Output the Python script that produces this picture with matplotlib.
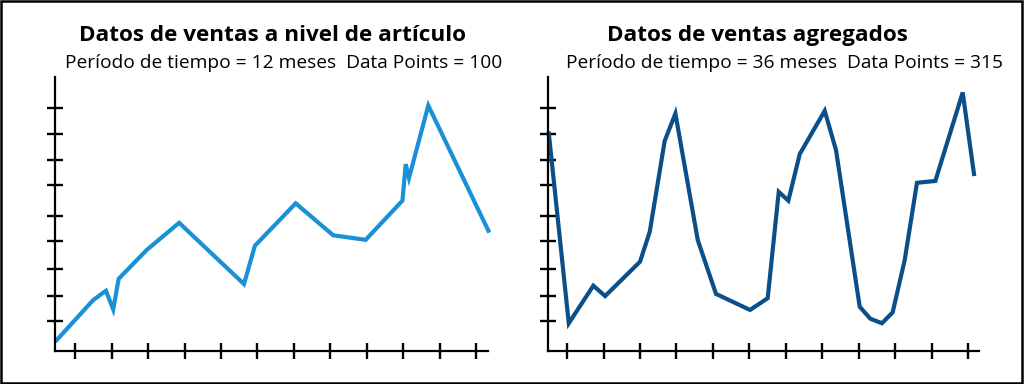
import matplotlib
matplotlib.use("Agg")
import matplotlib.pyplot as plt
from matplotlib.patches import Rectangle

plt.rcParams['font.family'] = ['Open Sans', 'DejaVu Sans']

# ---- data ----
left_title = "Datos de ventas a nivel de artículo"
left_subtitle = "Período de tiempo = 12 meses  Data Points = 100"
right_title = "Datos de ventas agregados"
right_subtitle = "Período de tiempo = 36 meses  Data Points = 315"

left_x = [0.49, 1.49, 1.84, 2.04, 2.19, 2.96, 3.85, 5.63, 5.93, 7.05, 8.08,
          8.97, 9.98, 10.07, 10.16, 10.69, 12.34]
left_y = [0.40, 1.90, 2.25, 1.55, 2.70, 3.78, 4.80, 2.50, 3.94, 5.53, 4.33,
          4.16, 5.63, 7.00, 6.48, 9.20, 4.50]

right_x = [1.50, 3.14, 5.16, 6.13, 9.00, 9.80, 11.03, 11.91, 13.75, 15.25,
           18.05, 19.50, 20.41, 21.20, 22.14, 24.19, 25.12, 27.07, 27.94,
           28.90, 29.78, 30.77, 31.78, 33.29, 35.54, 36.47]
right_y = [8.15, 1.03, 2.44, 2.05, 3.34, 4.46, 7.87, 8.90, 4.15, 2.13, 1.53,
           1.97, 5.96, 5.63, 7.38, 9.00, 7.53, 1.65, 1.20, 1.03, 1.44, 3.40,
           6.30, 6.37, 9.69, 6.63]

left_xticks = list(range(1, 13))
right_xticks = list(range(3, 37, 3))
yticks = [1.10, 2.05, 3.08, 4.10, 5.06, 6.21, 7.17, 8.13, 9.10]

left_color = "#1a90d8"
right_color = "#0b4f8a"

fig = plt.figure(figsize=(10.24, 3.84), dpi=100)

def style(ax):
    for s in ("top", "right"):
        ax.spines[s].set_visible(False)
    for s in ("left", "bottom"):
        ax.spines[s].set_linewidth(1.6)
        ax.spines[s].set_color("black")
    ax.tick_params(direction="inout", length=11, width=1.7, color="black",
                   labelleft=False, labelbottom=False)
    ax.set_yticks(yticks)
    ax.set_ylim(0, 10.27)

axL = fig.add_axes([0.054, 0.0867, 0.4226, 0.7128])
axL.plot(left_x, left_y, color=left_color, lw=3.0, solid_joinstyle="miter", clip_on=False)
axL.set_xlim(0.45, 12.33)
axL.set_xticks(left_xticks)
style(axL)

axR = fig.add_axes([0.5349, 0.0867, 0.4209, 0.7128])
axR.plot(right_x, right_y, color=right_color, lw=3.0, solid_joinstyle="miter", clip_on=False)
axR.set_xlim(1.41, 36.86)
axR.set_xticks(right_xticks)
style(axR)

H = 384.0
W = 1024.0
fig.text(272.5 / W, 1 - 41 / H, left_title, ha="center", va="baseline",
         fontsize=16.2, fontweight="bold")
fig.text(283.5 / W, 1 - 68 / H, left_subtitle, ha="center", va="baseline",
         fontsize=13.8)
fig.text(757.5 / W, 1 - 41 / H, right_title, ha="center", va="baseline",
         fontsize=16.2, fontweight="bold")
fig.text(784.5 / W, 1 - 68 / H, right_subtitle, ha="center", va="baseline",
         fontsize=13.8)

fig.patches.append(Rectangle((0.001, 0.002), 0.997, 0.995, transform=fig.transFigure,
                             fill=False, edgecolor="black", linewidth=1.8))

fig.savefig("out.png", dpi=100)
